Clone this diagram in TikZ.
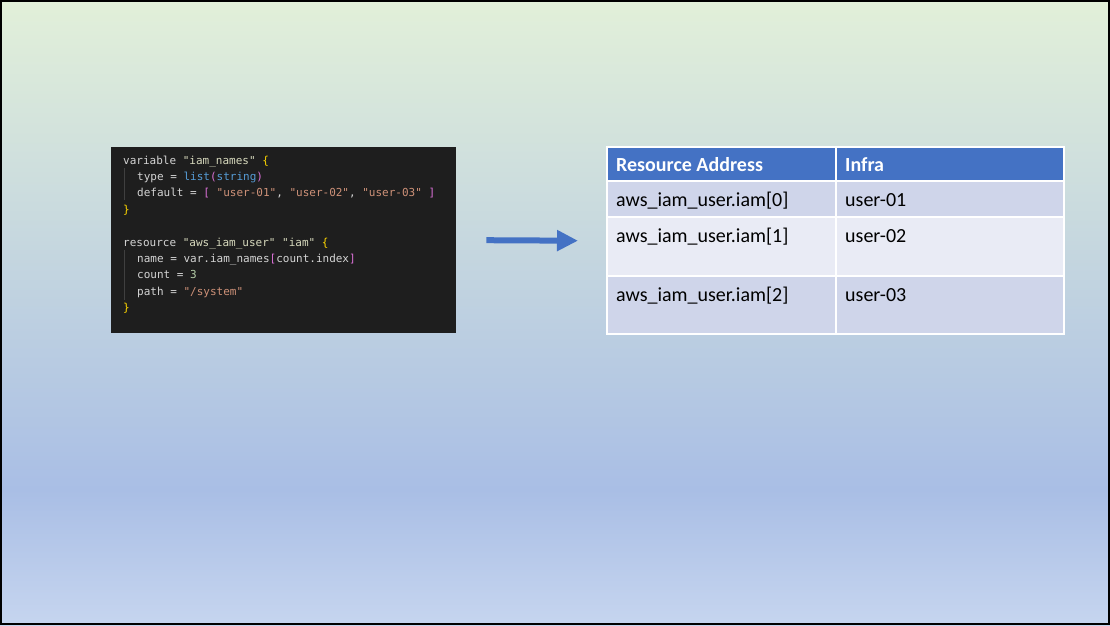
\documentclass[tikz,border=0pt]{standalone}
\usepackage{fontspec}
\setmainfont{Carlito}
\setmonofont{DejaVu Sans Mono}
\usetikzlibrary{arrows.meta}
\definecolor{bgtop}{HTML}{E2F0D9}
\definecolor{bgmid}{HTML}{A9BEE5}
\definecolor{bgbot}{HTML}{C6D5EF}
\definecolor{codebg}{HTML}{1E1E1E}
\definecolor{cplain}{HTML}{D4D4D4}
\definecolor{clabel}{HTML}{D7D9BD}
\definecolor{cstr}{HTML}{CE9178}
\definecolor{cbrace}{HTML}{FFD700}
\definecolor{cbrack}{HTML}{DA70D6}
\definecolor{ctype}{HTML}{569CD6}
\definecolor{cnum}{HTML}{B5CEA8}
\definecolor{cguide}{HTML}{404040}
\definecolor{hdr}{HTML}{4472C4}
\definecolor{rowa}{HTML}{CFD5EA}
\definecolor{rowb}{HTML}{E9EBF5}
\newcommand{\cP}[1]{\textcolor{cplain}{#1}}
\newcommand{\cL}[1]{\textcolor{clabel}{#1}}
\newcommand{\cS}[1]{\textcolor{cstr}{#1}}
\newcommand{\cB}[1]{\textcolor{cbrace}{#1}}
\newcommand{\cK}[1]{\textcolor{cbrack}{#1}}
\newcommand{\cT}[1]{\textcolor{ctype}{#1}}
\newcommand{\cN}[1]{\textcolor{cnum}{#1}}
\begin{document}
\begin{tikzpicture}[x=1pt,y=-1pt,
  codeline/.style={anchor=base west,inner sep=0pt,font=\ttfamily\fontsize{11}{13}\selectfont,text=cplain},
  celltext/.style={anchor=base west,inner sep=0pt,font=\fontsize{20}{24}\selectfont,text=black},
  hdrtext/.style={anchor=base west,inner sep=0pt,font=\bfseries\fontsize{20}{24}\selectfont,text=white},
  cellbox/.style={draw=white,line width=2pt},
  bigarrow/.style={draw=hdr,line width=6pt,-{Triangle[length=21pt,width=20pt]}}]
\useasboundingbox (0,0) rectangle (1110,625);
% background
\shade[top color=bgtop,bottom color=bgmid] (0,0) rectangle (1110,490);
\shade[top color=bgmid,bottom color=bgbot] (0,489.5) rectangle (1110,625);
\draw[black,line width=2pt] (1,1) rectangle (1109,624);
% code block
\node[fill=codebg,inner sep=0pt,minimum width=345pt,minimum height=186pt,anchor=north west] (code) at (111,147) {};
\draw[cguide,line width=0.8pt] (124,168) -- (124,200);
\draw[cguide,line width=0.8pt] (124,250) -- (124,300);
\node[codeline] (c1) at (123,164) {\cP{variable} \cL{"iam\_names"} \cB{\{}};
\node[codeline] (c2) at (137,180.4) {\cP{type =} \cT{list}\cK{(}\cT{string}\cK{)}};
\node[codeline] (c3) at (137,196.8) {\cP{default =} \cK{[} \cS{"user-01"}\cP{,} \cS{"user-02"}\cP{,} \cS{"user-03"} \cK{]}};
\node[codeline] (c4) at (123,213.2) {\cB{\}}};
\node[codeline] (c5) at (123,246) {\cP{resource} \cL{"aws\_iam\_user"} \cL{"iam"} \cB{\{}};
\node[codeline] (c6) at (137,262.4) {\cP{name = var.iam\_names}\cK{[}\cP{count.index}\cK{]}};
\node[codeline] (c7) at (137,278.8) {\cP{count =} \cN{3}};
\node[codeline] (c8) at (137,295.2) {\cP{path =} \cS{"/system"}};
\node[codeline] (c9) at (123,311.6) {\cB{\}}};
% table
\node[inner sep=0pt,minimum width=458pt,minimum height=187pt,anchor=north west] (tbl) at (607,147) {};
\path[fill=hdr] (607,147) rectangle (1064,181);
\path[fill=rowa] (607,181) rectangle (1064,217);
\path[fill=rowb] (607,217) rectangle (1064,276);
\path[fill=rowa] (607,276) rectangle (1064,334);
\draw[cellbox] (607,147) rectangle (1064,334);
\draw[cellbox] (607,181) -- (1064,181);
\draw[cellbox] (607,217) -- (1064,217);
\draw[cellbox] (607,276) -- (1064,276);
\draw[cellbox] (836,147) -- (836,334);
\node[hdrtext] (h1) at (616,171) {Resource Address};
\node[hdrtext] (h2) at (845,171) {Infra};
\node[celltext] (r1a) at (616,206) {aws\_iam\_user.iam[0]};
\node[celltext] (r1b) at (845,206) {user-01};
\node[celltext] (r2a) at (616,242) {aws\_iam\_user.iam[1]};
\node[celltext] (r2b) at (845,242) {user-02};
\node[celltext] (r3a) at (616,301) {aws\_iam\_user.iam[2]};
\node[celltext] (r3b) at (845,301) {user-03};
% arrow
\draw[bigarrow] ([xshift=30pt]code.east) -- ([xshift=-29pt]tbl.west);
\end{tikzpicture}
\end{document}
